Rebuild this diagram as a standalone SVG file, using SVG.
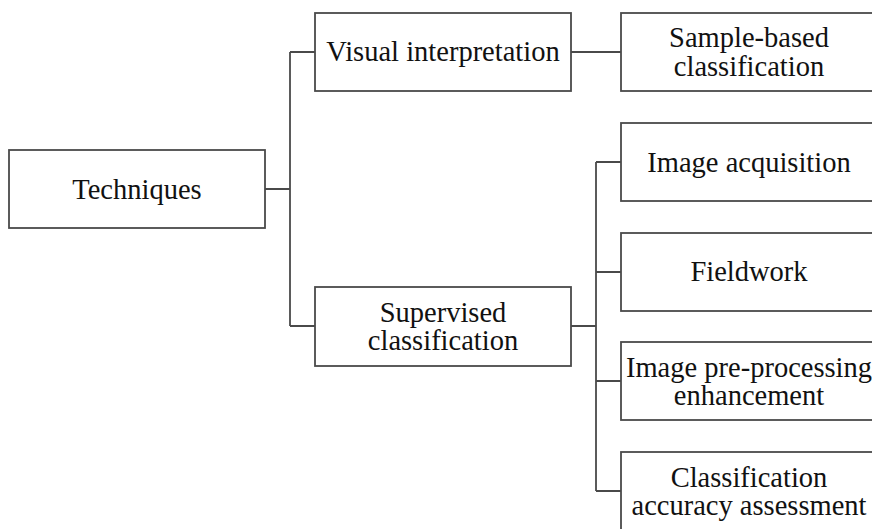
<svg xmlns="http://www.w3.org/2000/svg" width="872" height="529" viewBox="0 0 872 529">
<style>
rect{fill:#fff;stroke:#4a4a4a;stroke-width:1.8}
.c{fill:none;stroke:#4a4a4a;stroke-width:1.8}
text{font-family:"Liberation Serif","Times New Roman",serif;font-size:28.5px;fill:#111;text-anchor:middle}
</style>
<rect x="0" y="0" width="872" height="529" style="fill:#fff;stroke:none"/>
<g id="connectors">
<path class="c" d="M265 189H290M290 52V326M290 52H315M290 326H315"/>
<path class="c" d="M571 52H621"/>
<path class="c" d="M571 326H596M596 162V491M596 162H621M596 272H621M596 381H621M596 491H621"/>
</g>
<g id="techniques"><rect x="9" y="150" width="256" height="78"/><text x="137" y="199">Techniques</text></g>
<g id="visual"><rect x="315" y="13" width="256" height="78"/><text x="443" y="61">Visual interpretation</text></g>
<g id="sample"><rect x="621" y="13" width="256" height="78"/><text x="749" y="47">Sample-based</text><text x="749" y="76">classification</text></g>
<g id="acquisition"><rect x="621" y="123" width="256" height="78"/><text x="749" y="172">Image acquisition</text></g>
<g id="fieldwork"><rect x="621" y="233" width="256" height="78"/><text x="749" y="281">Fieldwork</text></g>
<g id="supervised"><rect x="315" y="287" width="256" height="79"/><text x="443" y="321.5">Supervised</text><text x="443" y="350">classification</text></g>
<g id="preprocessing"><rect x="621" y="342" width="256" height="78"/><text x="749" y="376.5">Image pre-processing</text><text x="749" y="405">enhancement</text></g>
<g id="accuracy"><rect x="621" y="452" width="256" height="78"/><text x="749" y="486.5">Classification</text><text x="749" y="514.5">accuracy assessment</text></g>
</svg>
